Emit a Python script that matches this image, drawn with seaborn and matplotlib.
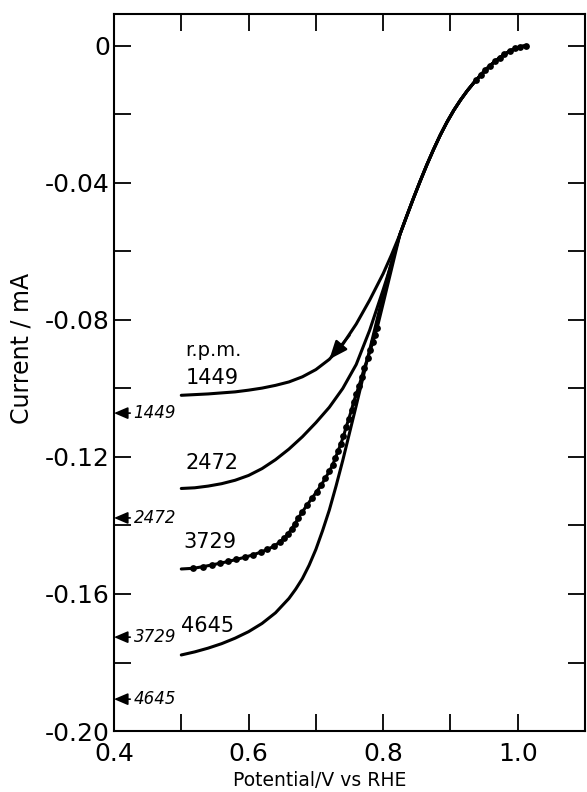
import matplotlib
matplotlib.use("Agg")
import matplotlib.pyplot as plt
import seaborn as sns
import pandas as pd
from matplotlib.ticker import MultipleLocator

# rotation rates and the limiting currents marked on the left axis
RPM = ["1449", "2472", "3729", "4645"]
LIMIT_CURRENT = [-0.1072, -0.1378, -0.1726, -0.1907]

# lower (diverging) part of each curve, V vs RHE / mA
X_1449 = [0.50, 0.52, 0.54, 0.56, 0.58, 0.60, 0.62, 0.64, 0.66, 0.68, 0.70, 0.72,
          0.74, 0.76, 0.78, 0.80, 0.812]
Y_1449 = [-0.1020, -0.1018, -0.1016, -0.1013, -0.1010, -0.1005, -0.0999, -0.0991,
          -0.0981, -0.0966, -0.0945, -0.0915, -0.0871, -0.0812, -0.0742, -0.0665,
          -0.0612]

X_2472 = [0.50, 0.52, 0.54, 0.56, 0.58, 0.60, 0.62, 0.64, 0.66, 0.68, 0.70, 0.72,
          0.74, 0.76, 0.78, 0.80, 0.812]
Y_2472 = [-0.1292, -0.1290, -0.1285, -0.1278, -0.1268, -0.1254, -0.1234, -0.1208,
          -0.1177, -0.1141, -0.1100, -0.1055, -0.1000, -0.0930, -0.0830, -0.0712,
          -0.0638]

# calculated points on the 3729 curve
DOTS_LOW_X = [0.518, 0.533, 0.546, 0.558, 0.570, 0.582, 0.594, 0.606, 0.618, 0.628,
              0.638, 0.646, 0.653, 0.659, 0.664, 0.669, 0.674, 0.680, 0.687, 0.694,
              0.701, 0.708, 0.714, 0.720, 0.725, 0.729, 0.733, 0.737, 0.741, 0.745,
              0.749, 0.753, 0.756, 0.760, 0.764, 0.768, 0.772, 0.777, 0.781, 0.785,
              0.788, 0.791]
DOTS_LOW_Y = [-0.1525, -0.1520, -0.1515, -0.1510, -0.1505, -0.1499, -0.1493, -0.1486,
              -0.1478, -0.1470, -0.1460, -0.1449, -0.1437, -0.1424, -0.1410, -0.1395,
              -0.1378, -0.1360, -0.1340, -0.1321, -0.1302, -0.1282, -0.1262, -0.1242,
              -0.1223, -0.1203, -0.1183, -0.1162, -0.1140, -0.1113, -0.1088, -0.1063,
              -0.1040, -0.1017, -0.0993, -0.0968, -0.0940, -0.0912, -0.0888, -0.0863,
              -0.0843, -0.0824]
DOTS_TOP_X = [0.938, 0.945, 0.952, 0.959, 0.966, 0.973, 0.980, 0.988, 0.996, 1.004, 1.012]
DOTS_TOP_Y = [-0.0100, -0.0085, -0.0071, -0.0058, -0.0045, -0.0034, -0.0024, -0.0015,
              -0.0007, -0.0002, 0.0]

X_3729 = [0.500] + DOTS_LOW_X + [0.800, 0.812]
Y_3729 = [-0.1527] + DOTS_LOW_Y + [-0.0752, -0.0655]

X_4645 = [0.50, 0.52, 0.54, 0.56, 0.58, 0.60, 0.62, 0.64, 0.66, 0.67, 0.68, 0.69,
          0.70, 0.71, 0.72, 0.73, 0.74, 0.76, 0.78, 0.80, 0.812]
Y_4645 = [-0.1778, -0.1769, -0.1758, -0.1745, -0.1729, -0.1710, -0.1686, -0.1655,
          -0.1613, -0.1586, -0.1555, -0.1516, -0.1470, -0.1415, -0.1355, -0.1285,
          -0.1210, -0.1050, -0.0887, -0.0727, -0.0634]

# common upper part shared by all curves
TAIL_X = [0.825, 0.835, 0.845, 0.855, 0.865, 0.875, 0.885, 0.895, 0.905, 0.915, 0.925,
          0.935, 0.945, 0.955, 0.965, 0.975, 0.985, 0.995, 1.005, 1.012]
TAIL_Y = [-0.0550, -0.0497, -0.0445, -0.0395, -0.0347, -0.0302, -0.0260, -0.0222,
          -0.0188, -0.0158, -0.0131, -0.0107, -0.0085, -0.0065, -0.0047, -0.0032,
          -0.0019, -0.0009, -0.0002, 0.0]

X_TICKS = [0.4, 0.6, 0.8, 1.0]
X_TICK_LABELS = ["0.4", "0.6", "0.8", "1.0"]
Y_TICKS = [0.0, -0.04, -0.08, -0.12, -0.16, -0.20]
Y_TICK_LABELS = ["0", "-0.04", "-0.08", "-0.12", "-0.16", "-0.20"]

LOWER = {"1449": (X_1449, Y_1449), "2472": (X_2472, Y_2472),
         "3729": (X_3729, Y_3729), "4645": (X_4645, Y_4645)}

rows = []
for rpm in RPM:
    xs, ys = LOWER[rpm]
    for x, y in zip(xs + TAIL_X, ys + TAIL_Y):
        rows.append({"potential": x, "current": y, "rpm": rpm})
df = pd.DataFrame(rows)

sns.set_style("ticks")
plt.rcParams["font.family"] = ["DejaVu Sans"]
plt.rcParams["text.color"] = "black"
plt.rcParams["xtick.color"] = "black"
plt.rcParams["ytick.color"] = "black"
plt.rcParams["axes.labelcolor"] = "black"

fig = plt.figure(figsize=(5.87, 7.92), dpi=100)
ax = fig.add_axes([0.1942, 0.0770, 0.8024, 0.9053])

sns.lineplot(data=df, x="potential", y="current", hue="rpm",
             palette={r: "black" for r in RPM}, estimator=None, sort=False,
             linewidth=2.2, legend=False, ax=ax)
sns.scatterplot(x=DOTS_LOW_X + DOTS_TOP_X, y=DOTS_LOW_Y + DOTS_TOP_Y,
                color="black", s=24, linewidth=0, ax=ax, zorder=3)

ax.set_xlim(0.4, 1.1)
ax.set_ylim(-0.20, 0.0093)
ax.set_xticks(X_TICKS, X_TICK_LABELS)
ax.set_yticks(Y_TICKS, Y_TICK_LABELS)
ax.xaxis.set_minor_locator(MultipleLocator(0.1))
ax.yaxis.set_minor_locator(MultipleLocator(0.02))
ax.tick_params(which="both", direction="in", length=12, width=1.3,
               top=True, right=True, color="black", labelcolor="black")
ax.tick_params(axis="y", which="major", labelsize=18, pad=3)
ax.tick_params(axis="x", which="major", labelsize=18, pad=8)
for sp in ax.spines.values():
    sp.set_linewidth(1.5)
    sp.set_color("black")
ax.set_xlabel("")
ax.set_ylabel("")

fig.text(22 / 587, 1 - 348 / 792, "Current / mA", rotation=90,
         ha="center", va="center", fontsize=17)
fig.text(320 / 587, 1 - 781 / 792, "Potential/V vs RHE",
         ha="center", va="center", fontsize=13.5)

# curve labels
ax.text(0.506, -0.0888, "r.p.m.", fontsize=14, ha="left", va="center")
label_x = [0.506, 0.506, 0.503, 0.500]
label_y = [-0.0969, -0.1218, -0.1448, -0.1693]
for rpm, lx, ly in zip(RPM, label_x, label_y):
    ax.text(lx, ly, rpm, fontsize=15, ha="left", va="center")

# limiting-current markers on the axis
for rpm, lim in zip(RPM, LIMIT_CURRENT):
    ax.annotate(rpm, xy=(0.40, lim), xytext=(0.429, lim), fontsize=12,
                fontstyle="italic", ha="left", va="center",
                arrowprops=dict(arrowstyle="-|>,head_length=0.7,head_width=0.3",
                                color="black", lw=1.2, shrinkA=0, shrinkB=0))

# sweep direction arrow on the 1449 curve
ax.annotate("", xy=(0.720, -0.0915), xytext=(0.750, -0.0845),
            arrowprops=dict(arrowstyle="-|>,head_length=1.1,head_width=0.45",
                            color="black", lw=1.8, shrinkA=0, shrinkB=0))

fig.savefig("out.png", dpi=100)
